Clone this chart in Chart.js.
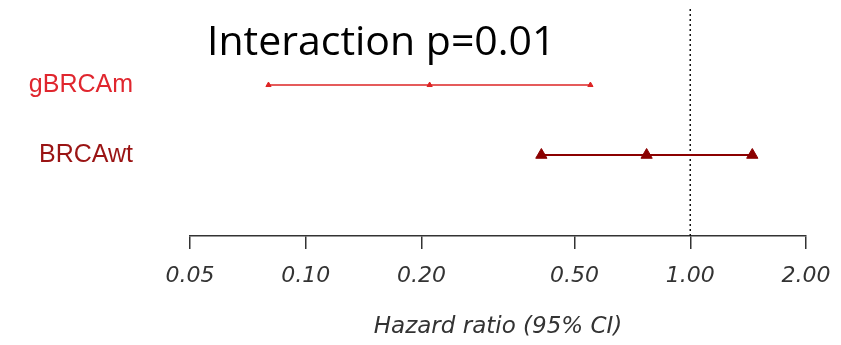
<!DOCTYPE html>
<html>
<head>
<meta charset="utf-8">
<script src="https://cdn.jsdelivr.net/npm/chart.js@4.4.1/dist/chart.umd.min.js"></script>
<style>
  body { margin: 0; background: #fff; }
</style>
</head>
<body>
<canvas id="mycanvas" width="841" height="345"></canvas>
<script>
// data
var groups = ["gBRCAm", "BRCAwt"];
var hr = [0.21, 0.77];
var lower = [0.08, 0.41];
var upper = [0.55, 1.45];
var xTicks = [0.05, 0.10, 0.20, 0.50, 1.00, 2.00];
var nullValue = 1;
var interactionText = "Interaction p=0.01";

var rowY = [2, 1];
var yMin = -0.157, yMax = 3.086;

var colors = ["#dd2424", "#8b0000"];
var labelColors = ["#e0262e", "#9a1414"];
var pointSizes = [3, 6.5];

var datasets = [];
for (var i = 0; i < groups.length; i++) {
	datasets.push({
		label: groups[i],
		data: [
			{x: lower[i], y: rowY[i]},
			{x: hr[i], y: rowY[i]},
			{x: upper[i], y: rowY[i]}
		],
		showLine: true,
		borderColor: colors[i],
		backgroundColor: colors[i],
		borderWidth: i == 0 ? 1.5 : 2,
		pointStyle: "triangle",
		pointRadius: pointSizes[i],
		pointBorderWidth: 1
	});
}
datasets.push({
	label: "null",
	data: [{x: nullValue, y: yMin}, {x: nullValue, y: yMax}],
	showLine: true,
	borderColor: "#111",
	borderWidth: 1.5,
	borderDash: [2, 3],
	pointRadius: 0
});

var titlePlugin = {
	id: "interaction",
	afterDraw: function(chart) {
		var ctx = chart.ctx;
		ctx.save();
		ctx.font = '41px "Open Sans"';
		ctx.fillStyle = "#000";
		ctx.textAlign = "left";
		ctx.textBaseline = "alphabetic";
		ctx.fillText(interactionText, 207, 55);
		ctx.restore();
	}
};

var ctx = document.getElementById("mycanvas");
var chart = new Chart(ctx, {
	type: "scatter",
	data: { datasets: datasets },
	plugins: [titlePlugin],
	options: {
		responsive: false,
		animation: false,
		layout: { padding: { top: 9, right: 35, left: 0, bottom: 0 } },
		plugins: {
			legend: { display: false },
			tooltip: { enabled: false }
		},
		scales: {
			x: {
				type: "logarithmic",
				min: 0.05,
				max: 2,
				afterBuildTicks: function(axis) {
					axis.ticks = xTicks.map(function(v){ return {value: v}; });
				},
				afterFit: function(axis) {
					axis.height = 109;
					axis.paddingLeft = 0;
					axis.paddingRight = 0;
				},
				grid: {
					drawOnChartArea: false,
					drawTicks: true,
					tickLength: 13,
					color: "#333",
					lineWidth: 1.5
				},
				border: { display: true, color: "#333", width: 1.5 },
				ticks: {
					padding: 14,
					color: "#333",
					maxRotation: 0,
					autoSkip: false,
					font: { family: '"DejaVu Sans"', size: 22, style: "italic" },
					callback: function(v) { return Number(v).toFixed(2); }
				},
				title: {
					display: true,
					text: "Hazard ratio (95% CI)",
					color: "#333",
					padding: { top: 0, bottom: 4 },
					font: { family: '"DejaVu Sans"', size: 23, style: "italic" }
				}
			},
			y: {
				type: "linear",
				min: yMin,
				max: yMax,
				afterBuildTicks: function(axis) {
					axis.ticks = rowY.map(function(v){ return {value: v}; });
				},
				afterFit: function(axis) {
					axis.width = 190;
					axis.paddingTop = 0;
					axis.paddingBottom = 0;
				},
				grid: { display: false, drawTicks: false },
				border: { display: false },
				ticks: {
					padding: 57,
					font: { family: '"Liberation Sans"', size: 25 },
					color: function(c) {
						var k = rowY.indexOf(c.tick.value);
						return k >= 0 ? labelColors[k] : "#000";
					},
					callback: function(v) {
						var k = rowY.indexOf(v);
						return k >= 0 ? groups[k] : "";
					}
				}
			}
		}
	}
});
</script>
</body>
</html>
